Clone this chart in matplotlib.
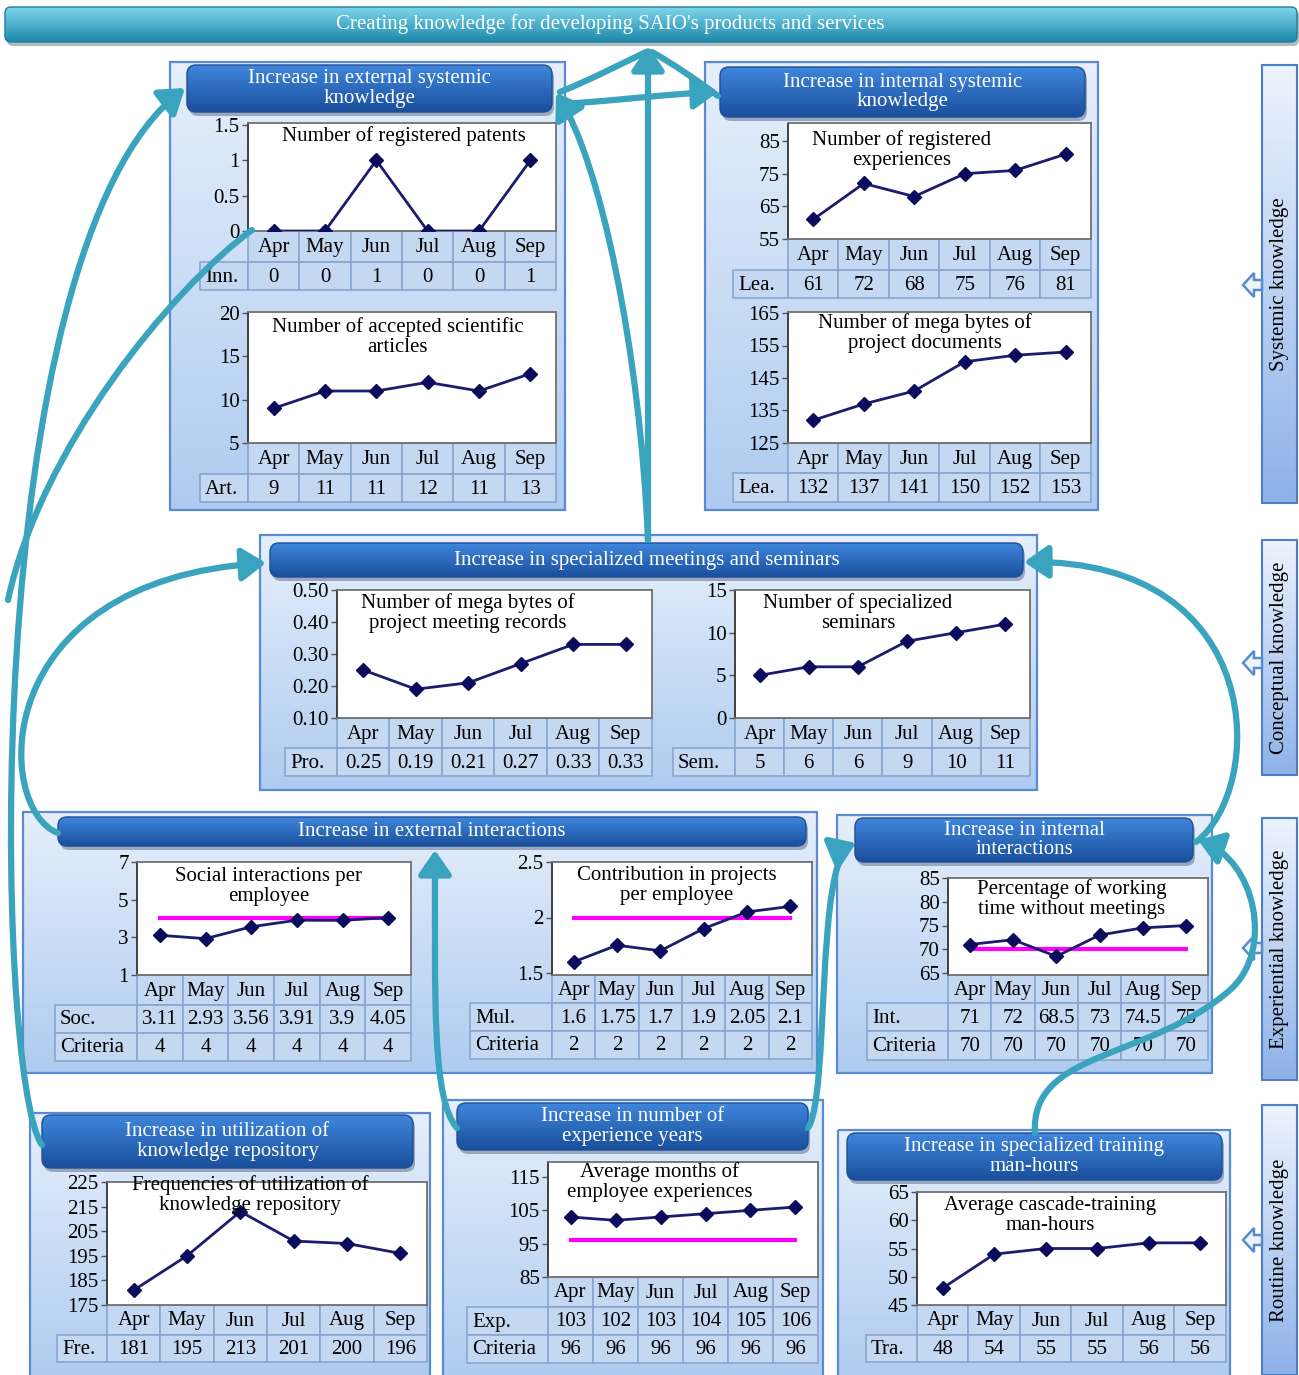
import matplotlib.pyplot as plt
import numpy as np
from matplotlib.colors import LinearSegmentedColormap
from matplotlib.patches import FancyArrowPatch, FancyBboxPatch, Polygon, Rectangle
from matplotlib.path import Path

plt.rcParams["font.family"] = ["Liberation Serif", "DejaVu Serif"]

W, H = 1299, 1375

MONTHS = ["Apr", "May", "Jun", "Jul", "Aug", "Sep"]

patents = [0, 0, 1, 0, 0, 1]
articles = [9, 11, 11, 12, 11, 13]
experiences = [61, 72, 68, 75, 76, 81]
project_docs = [132, 137, 141, 150, 152, 153]
meeting_records = [0.25, 0.19, 0.21, 0.27, 0.33, 0.33]
seminars = [5, 6, 6, 9, 10, 11]
social = [3.11, 2.93, 3.56, 3.91, 3.9, 4.05]
social_criteria = [4, 4, 4, 4, 4, 4]
contribution = [1.6, 1.75, 1.7, 1.9, 2.05, 2.1]
contribution_criteria = [2, 2, 2, 2, 2, 2]
no_meeting = [71, 72, 68.5, 73, 74.5, 75]
no_meeting_criteria = [70, 70, 70, 70, 70, 70]
repository = [181, 195, 213, 201, 200, 196]
experience_months = [103, 102, 103, 104, 105, 106]
experience_criteria = [96, 96, 96, 96, 96, 96]
training = [48, 54, 55, 55, 56, 56]

TEAL = "#3aa3bd"
CELL = "#c4d8f2"
EDGE = "#8aa6cf"
LINE = "#1c1c6e"
FS = 15

fig = plt.figure(figsize=(W / 100, H / 100), dpi=100)
bg = fig.add_axes([0, 0, 1, 1], zorder=0)
top = fig.add_axes([0, 0, 1, 1], zorder=10)


def gradient(ax, box, c_top, c_bot, clip, z):
    x0, y0, x1, y1 = box
    cmap = LinearSegmentedColormap.from_list("g", [c_top, c_bot])
    g = np.linspace(0, 1, 256).reshape(-1, 1)
    im = ax.imshow(g, extent=(x0, x1, y1, y0), aspect="auto", cmap=cmap,
                   zorder=z, interpolation="bicubic")
    im.set_clip_path(clip)


def rounded(box, rs, **kw):
    x0, y0, x1, y1 = box
    return FancyBboxPatch((x0, y0), x1 - x0, y1 - y0,
                          boxstyle=f"round,pad=0,rounding_size={rs}", **kw)


def panel(box, hbox, htext):
    x0, y0, x1, y1 = box
    r = Rectangle((x0, y0), x1 - x0, y1 - y0, fc="none", ec="#5a8ad2",
                  lw=1.6, zorder=2)
    bg.add_patch(r)
    gradient(bg, box, "#e6effb", "#aecbf0", r, 1)
    hx0, hy0, hx1, hy1 = hbox
    bg.add_patch(rounded((hx0 + 2, hy0 + 4, hx1 + 2, hy1 + 4), 9,
                         fc="#1a2f55", ec="none", alpha=0.35, zorder=3))
    hb = rounded(hbox, 9, fc="none", ec="#1d4d96", lw=1, zorder=5)
    bg.add_patch(hb)
    gradient(bg, hbox, "#3f86dc", "#1a4f9c", hb, 4)
    bg.text((hx0 + hx1) / 2, (hy0 + hy1) / 2, htext, color="white",
            ha="center", va="center", fontsize=FS, linespacing=1.05, zorder=6)


def chart(frame, series, yticks, anchor, title, title_xy, label_x0, row_ys,
          row_labels, row_values, criteria=None, tick_fmt="{:g}"):
    x0, y0, x1, y1 = frame
    ax = fig.add_axes([x0 / W, 1 - y1 / H, (x1 - x0) / W, (y1 - y0) / H],
                      zorder=5)
    (va, ya), (vb, yb) = anchor
    scale = (vb - va) / (ya - yb)
    ax.set_ylim(va - (y1 - ya) * scale, va + (ya - y0) * scale)
    xs = np.arange(len(MONTHS))
    if criteria is not None:
        ax.plot(xs, criteria, color="#ff00ff", lw=3, zorder=2)
    ax.plot(xs, series, color=LINE, lw=2, marker="D", ms=7,
            mfc="#0c0c5e", mec="#0c0c5e", zorder=3)
    ax.set_xlim(-0.5, len(MONTHS) - 0.5)
    ax.set_xticks([])
    ax.set_yticks(yticks)
    ax.set_yticklabels([tick_fmt.format(t) for t in yticks], fontsize=FS)
    ax.tick_params(axis="y", length=4, width=1, pad=2, color="#555555")
    for s in ax.spines.values():
        s.set_color("#707070")
        s.set_linewidth(1.3)
    ax.spines["left"].set_color("#333333")
    top.text(title_xy[0], title_xy[1], title, ha="center", va="top",
             fontsize=FS, linespacing=1.05, zorder=1)

    cw = (x1 - x0) / len(MONTHS)
    rows = [(None, MONTHS)] + list(zip(row_labels, row_values))
    for r, (lab, vals) in enumerate(rows):
        ra, rb = row_ys[r], row_ys[r + 1]
        if lab is not None:
            bg.add_patch(Rectangle((label_x0, ra), x0 - label_x0, rb - ra,
                                   fc=CELL, ec=EDGE, lw=1.2, zorder=3))
            bg.text(label_x0 + 5, (ra + rb) / 2 + 1, lab, ha="left",
                    va="center", fontsize=FS, zorder=4)
        for i, v in enumerate(vals):
            bg.add_patch(Rectangle((x0 + i * cw, ra), cw, rb - ra,
                                   fc=CELL, ec=EDGE, lw=1.2, zorder=3))
            txt = v if isinstance(v, str) else f"{v:g}"
            bg.text(x0 + (i + 0.5) * cw, (ra + rb) / 2 + 1, txt, ha="center",
                    va="center", fontsize=FS, zorder=4)


# top banner
banner = rounded((5, 7, 1297, 42), 6, fc="none", ec="#1d7f9c", lw=1, zorder=5)
bg.add_patch(rounded((7, 10, 1299, 46), 6, fc="#1a3a4a", ec="none",
                     alpha=0.35, zorder=3))
bg.add_patch(banner)
gradient(bg, (5, 7, 1297, 42), "#7fd6ec", "#1c88ab", banner, 4)
bg.text(610, 24, "Creating knowledge for developing SAIO's products and services",
        color="white", ha="center", va="center", fontsize=FS, zorder=6)

# side category bars
side = [((1262, 65, 1297, 503), "Systemic knowledge", 285),
        ((1262, 540, 1297, 775), "Conceptual knowledge", 663),
        ((1262, 818, 1297, 1080), "Experiential knowledge", 948),
        ((1262, 1105, 1297, 1375), "Routine knowledge", 1240)]
for box, label, yc in side:
    x0, y0, x1, y1 = box
    r = Rectangle((x0, y0), x1 - x0, y1 - y0, fc="none", ec="#4d7fc8",
                  lw=1.5, zorder=2)
    bg.add_patch(r)
    gradient(bg, box, "#edf3fc", "#8db2e8", r, 1)
    bg.text((x0 + x1) / 2, (y0 + y1) / 2, label, rotation=90, ha="center",
            va="center", fontsize=FS, zorder=3)
    bg.add_patch(Polygon([(1243, yc), (1254, yc - 12), (1254, yc - 5),
                          (1262, yc - 5), (1262, yc + 5), (1254, yc + 5),
                          (1254, yc + 12)], closed=True, fc="#eef4fc",
                         ec="#5a8ad2", lw=1.8, zorder=3))

panel((170, 62, 565, 510), (187, 65, 552, 112),
      "Increase in external systemic\nknowledge")
panel((705, 62, 1098, 510), (720, 67, 1085, 117),
      "Increase in internal systemic\nknowledge")
panel((260, 535, 1037, 790), (270, 543, 1023, 577),
      "Increase in specialized meetings and seminars")
panel((23, 812, 817, 1073), (58, 817, 806, 846),
      "Increase in external interactions")
panel((837, 815, 1212, 1073), (855, 818, 1193, 862),
      "Increase in internal\ninteractions")
panel((30, 1113, 430, 1380), (42, 1115, 413, 1168),
      "Increase in utilization of\nknowledge repository")
panel((443, 1100, 823, 1380), (457, 1103, 808, 1150),
      "Increase in number of\nexperience years")
panel((838, 1130, 1230, 1380), (847, 1133, 1222, 1180),
      "Increase in specialized training\nman-hours")

chart((248, 123, 556, 231), patents, [0, 0.5, 1, 1.5], ((0, 231), (1.5, 125)),
      "Number of registered patents", (404, 126), 200, [231, 262, 290],
      ["Inn."], [patents])
chart((248, 312, 556, 443), articles, [5, 10, 15, 20], ((5, 443), (20, 313)),
      "Number of accepted scientific\narticles", (398, 317), 200,
      [443, 474, 502], ["Art."], [articles])
chart((788, 123, 1091, 239), experiences, [55, 65, 75, 85],
      ((55, 239), (85, 141)), "Number of registered\nexperiences", (902, 130),
      733, [239, 270, 298], ["Lea."], [experiences])
chart((788, 312, 1091, 443), project_docs, [125, 135, 145, 155, 165],
      ((125, 443), (165, 313)), "Number of mega bytes of\nproject documents",
      (925, 313), 733, [443, 473, 502], ["Lea."], [project_docs])
chart((337, 590, 652, 718), meeting_records, [0.1, 0.2, 0.3, 0.4, 0.5],
      ((0.1, 718), (0.5, 589)), "Number of mega bytes of\nproject meeting records",
      (468, 593), 285, [718, 748, 776], ["Pro."], [meeting_records],
      tick_fmt="{:.2f}")
chart((735, 590, 1030, 718), seminars, [0, 5, 10, 15], ((0, 718), (15, 589)),
      "Number of specialized\nseminars", (858, 593), 673, [718, 748, 776],
      ["Sem."], [seminars])
chart((137, 862, 411, 975), social, [1, 3, 5, 7], ((1, 975), (7, 862)),
      "Social interactions per\nemployee", (269, 867), 55,
      [975, 1005, 1033, 1061], ["Soc.", "Criteria"], [social, social_criteria],
      criteria=social_criteria)
chart((552, 862, 812, 975), contribution, [1.5, 2, 2.5], ((1.5, 973), (2.5, 862)),
      "Contribution in projects\nper employee", (677, 866), 470,
      [975, 1003, 1031, 1059], ["Mul.", "Criteria"],
      [contribution, contribution_criteria], criteria=contribution_criteria)
chart((948, 878, 1208, 975), no_meeting, [65, 70, 75, 80, 85],
      ((65, 973), (85, 878)), "Percentage of working\ntime without meetings",
      (1072, 879), 867, [975, 1003, 1031, 1060], ["Int.", "Criteria"],
      [no_meeting, no_meeting_criteria], criteria=no_meeting_criteria)
chart((107, 1182, 427, 1305), repository, [175, 185, 195, 205, 215, 225],
      ((175, 1305), (225, 1182)),
      "Frequencies of utilization of\nknowledge repository", (250, 1175), 57,
      [1305, 1335, 1362], ["Fre."], [repository])
chart((548, 1162, 818, 1277), experience_months, [85, 95, 105, 115],
      ((85, 1277), (115, 1177)), "Average months of\nemployee experiences",
      (660, 1162), 467, [1277, 1307, 1335, 1363], ["Exp.", "Criteria"],
      [experience_months, experience_criteria], criteria=experience_criteria)
chart((917, 1192, 1226, 1305), training, [45, 50, 55, 60, 65],
      ((45, 1305), (65, 1192)), "Average cascade-training\nman-hours",
      (1050, 1196), 866, [1305, 1335, 1362], ["Tra."], [training])


def curve(points, head=True):
    codes = [Path.MOVETO] + [Path.CURVE4] * (len(points) - 1)
    style = "-|>,head_length=0.8,head_width=0.55" if head else "-"
    top.add_patch(FancyArrowPatch(path=Path(points, codes), arrowstyle=style,
                                  mutation_scale=18, color=TEAL, lw=4.5,
                                  zorder=5))


# flows between the knowledge blocks
curve([(648, 540), (648, 400), (648, 200), (648, 46)])
curve([(648, 540), (640, 350), (600, 160), (556, 93)])
curve([(565, 104), (620, 100), (680, 93), (718, 92)])
curve([(560, 92), (590, 80), (625, 62), (646, 52)], head=False)
curve([(718, 96), (700, 82), (670, 62), (652, 52)], head=False)
curve([(42, 1145), (-5, 1080), (-25, 250), (185, 88)])
curve([(8, 600), (40, 450), (170, 290), (252, 230)], head=False)
curve([(58, 833), (-5, 810), (-15, 580), (266, 563)])
curve([(1196, 842), (1265, 790), (1270, 560), (1024, 562)])
curve([(457, 1128), (432, 1100), (435, 1000), (435, 850)])
curve([(808, 1128), (830, 1095), (815, 860), (856, 843)])
curve([(1035, 1133), (1030, 1050), (1150, 1060), (1230, 990),
       (1275, 950), (1255, 860), (1198, 840)])

for a in (bg, top):
    a.set_xlim(0, W)
    a.set_ylim(H, 0)
    a.axis("off")

fig.savefig("out.png", dpi=100)
